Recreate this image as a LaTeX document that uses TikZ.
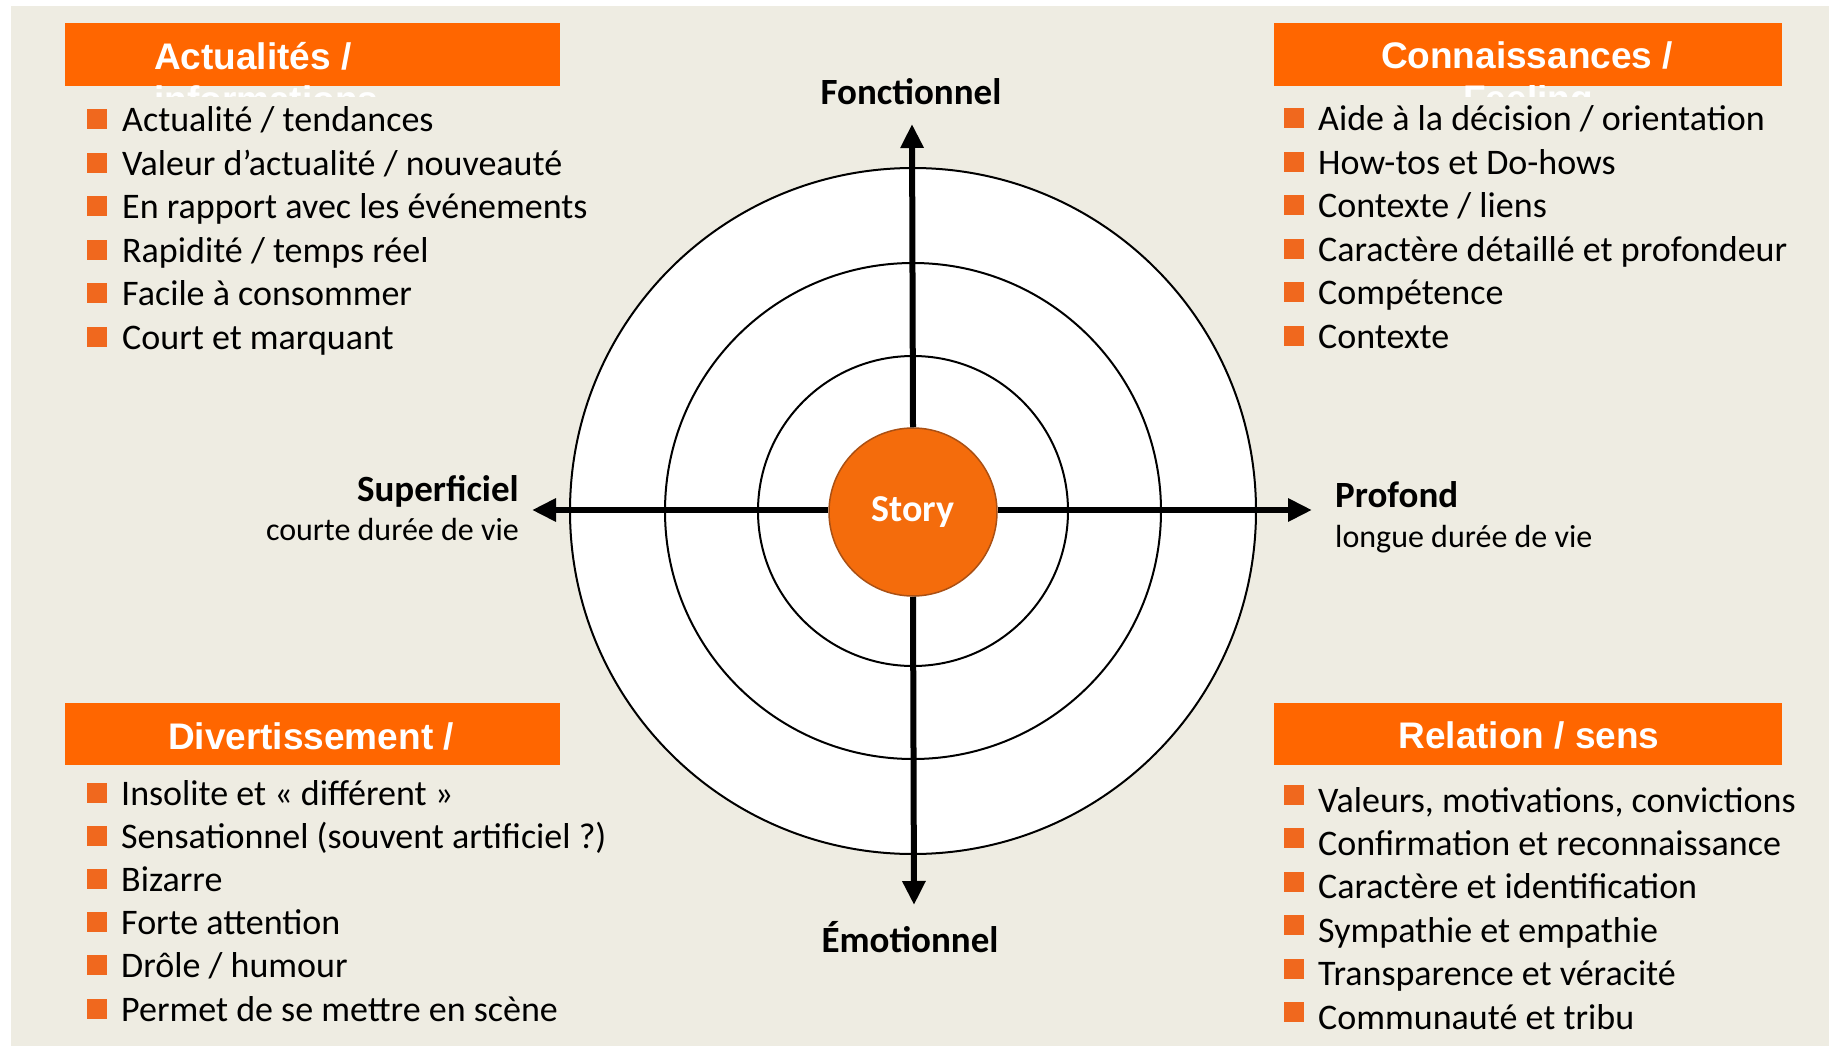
\documentclass[tikz,border=0pt]{standalone}
\usepackage{fontspec}
\setmainfont{Carlito}
\newfontfamily\hdfont{Liberation Sans}
\usetikzlibrary{arrows.meta}
\definecolor{bg}{RGB}{238,236,226}
\definecolor{hdorange}{RGB}{255,102,0}
\definecolor{bul}{RGB}{240,104,30}
\definecolor{storyfill}{RGB}{244,108,12}
\definecolor{storyedge}{RGB}{170,80,20}
\tikzset{
  hdbox/.style={fill=hdorange, draw=none},
  hdtext/.style={text=white, font=\hdfont\bfseries\fontsize{37}{42}\selectfont, inner sep=0},
  item/.style={font=\fontsize{36}{42}\selectfont, anchor=base west, inner sep=0},
  bulletsq/.style={fill=bul, draw=none, minimum size=20pt, inner sep=0},
  axislabel/.style={font=\bfseries\fontsize{37}{42}\selectfont, inner sep=0},
  sublabel/.style={font=\fontsize{32}{38}\selectfont, inner sep=0},
  ring/.style={draw=black, line width=2pt},
  axisline/.style={line width=6pt, -{Triangle[length=24pt,width=22pt]}},
}
\begin{document}
\begin{tikzpicture}[x=1pt,y=-1pt]
\useasboundingbox (0,0) rectangle (1829,1046);
\fill[white] (0,0) rectangle (1829,1046);
\fill[bg] (11,6) rectangle (1829,1046);

% target rings
\draw[ring, fill=white] (913,511) circle[radius=343];
\draw[ring] (913,511) circle[radius=248];
\draw[ring] (913,511) circle[radius=155];

% center
\node[circle, minimum size=168pt, inner sep=0, fill=storyfill, draw=storyedge, line width=1.5pt,
      text=white, font=\bfseries\fontsize{38}{42}\selectfont] (story) at (913,512) {Story};

\coordinate (ntip) at (912,124);
\coordinate (stip) at (914,905);
\coordinate (wtip) at (532,510);
\coordinate (etip) at (1312,510);
\draw[axisline] (story.north) -- (ntip);
\draw[axisline] (story.south) -- (stip);
\draw[axisline] (story.west |- wtip) -- (wtip);
\draw[axisline] (story.east |- etip) -- (etip);

% axis labels
\node[axislabel, anchor=base] (fonc) at (911,105) {Fonctionnel};
\node[axislabel, anchor=base] (emo) at (910,952) {Émotionnel};
\node[axislabel, anchor=base east] (sup) at (519,501) {Superficiel};
\node[sublabel, anchor=base east] (supsub) at (519,540) {courte durée de vie};
\node[axislabel, anchor=base west] (prof) at (1335,507) {Profond};
\node[sublabel, anchor=base west] (profsub) at (1335,547) {longue durée de vie};

% header boxes
\fill[hdbox] (65,23) rectangle (560,86);
\fill[hdbox] (1274,23) rectangle (1782,86);
\fill[hdbox] (65,703) rectangle (560,765);
\fill[hdbox] (1274,703) rectangle (1782,765);
\node[hdtext, anchor=base west] (tlh) at (154,70) {Actualités /};
\node[hdtext, anchor=base] (trh) at (1527,69) {Connaissances /};
\node[hdtext, anchor=base] (blh) at (311,749) {Divertissement /};
\node[hdtext, anchor=base] (brh) at (1529,748) {Relation / sens};
\begin{scope}
  \clip (154,86) rectangle (520,97);
  \node[hdtext, anchor=base west] (tlh2) at (154,113) {informations};
\end{scope}
\begin{scope}
  \clip (1342,86) rectangle (1710,97);
  \node[hdtext, anchor=base] (trh2) at (1528,112) {Feeling};
\end{scope}

% lists
\foreach \t [count=\i from 0] in {{Actualité / tendances},{Valeur d’actualité / nouveauté},{En rapport avec les événements},{Rapidité / temps réel},{Facile à consommer},{Court et marquant}}{
  \node[bulletsq] (tlb\i) at (97,{132+43.4*\i-12.5}) {};
  \node[item] (tl\i) at (122,{132+43.4*\i}) {\t};
}
\foreach \t [count=\i from 0] in {{Aide à la décision / orientation},{How-tos et Do-hows},{Contexte / liens},{Caractère détaillé et profondeur},{Compétence},{Contexte}}{
  \node[bulletsq] (trb\i) at (1293.5,{131+43.4*\i-12.5}) {};
  \node[item] (tr\i) at (1318,{131+43.4*\i}) {\t};
}
\foreach \t [count=\i from 0] in {{Insolite et « différent »},{Sensationnel (souvent artificiel ?)},{Bizarre},{Forte attention},{Drôle / humour},{Permet de se mettre en scène}}{
  \node[bulletsq] (blb\i) at (97,{805+43.2*\i-12.5}) {};
  \node[item] (bl\i) at (121,{805+43.2*\i}) {\t};
}
\foreach \t [count=\i from 0] in {{Valeurs, motivations, convictions},{Confirmation et reconnaissance},{Caractère et identification},{Sympathie et empathie},{Transparence et véracité},{Communauté et tribu}}{
  \node[bulletsq] (brb\i) at (1293.5,{812+43.4*\i-17}) {};
  \node[item] (br\i) at (1318,{812+43.4*\i}) {\t};
}
\end{tikzpicture}
\end{document}
